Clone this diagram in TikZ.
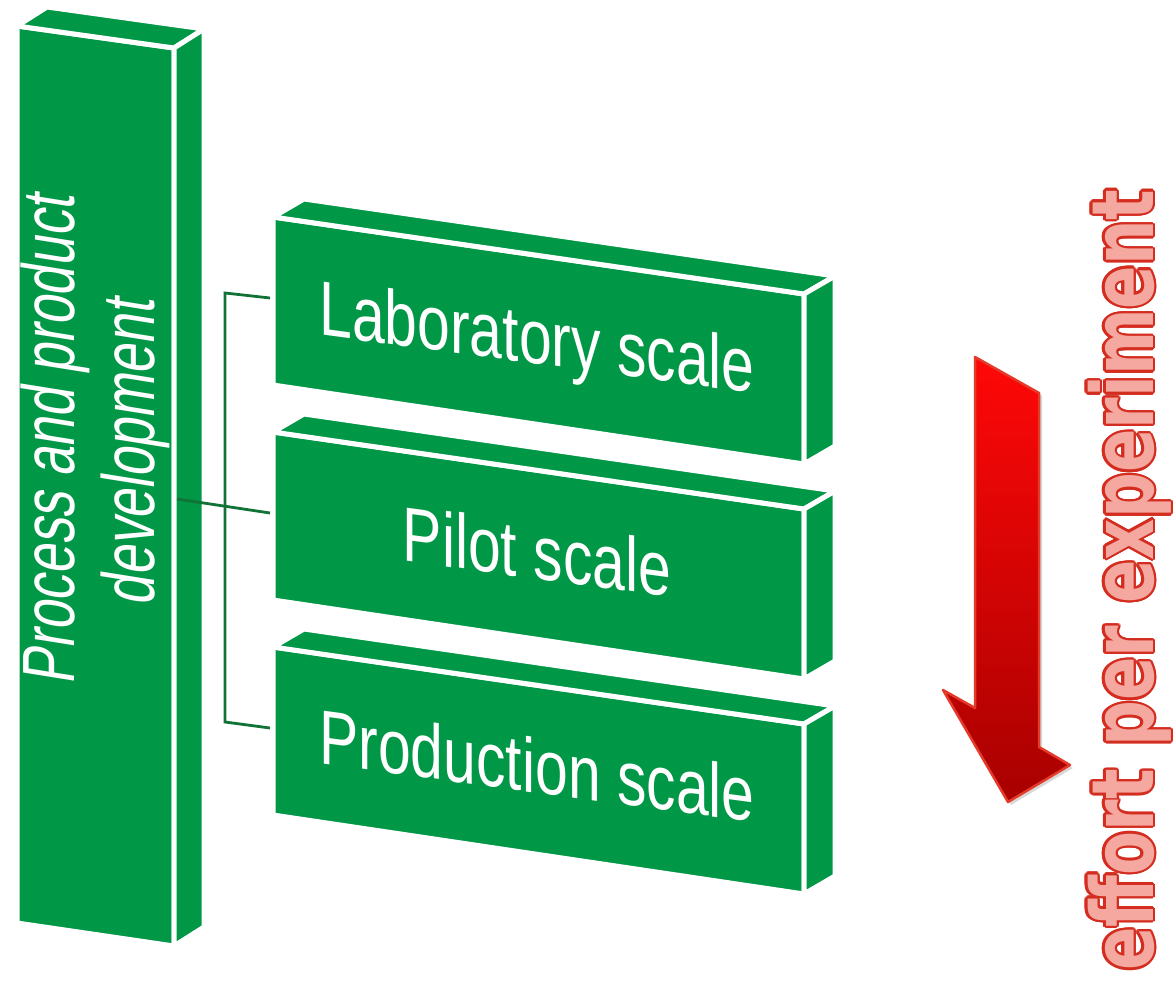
\documentclass[tikz,border=0pt]{standalone}
\usepackage{fontspec}
\setmainfont{Liberation Sans}
\newfontfamily\effortfont{DejaVu Sans}
\usetikzlibrary{shadows}
\definecolor{boxgreen}{RGB}{0,152,70}
\definecolor{linegreen}{RGB}{18,115,55}
\definecolor{arrowtop}{RGB}{255,8,8}
\definecolor{arrowbot}{RGB}{168,0,0}
\definecolor{arrowedge}{RGB}{228,58,42}
\definecolor{effortred}{RGB}{212,45,32}
\definecolor{effortpink}{RGB}{244,168,160}
\begin{document}
\begin{tikzpicture}[x=1pt,y=-1pt,
  face/.style={fill=boxgreen, draw=white, line width=5pt, line join=miter},
  conn/.style={draw=linegreen, line width=2.8pt, line join=miter},
  boxtext/.style={text=white, inner sep=0pt, anchor=base,
    font=\fontsize{77}{80}\selectfont, cm={0.765,-0.1033,0,1,(0,0)}},
  bartext/.style={text=white, inner sep=0pt, anchor=center, align=center,
    font=\fontsize{74}{80}\selectfont, cm={0,0.72,-1,0.16,(0,0)}},
  efforttext/.style={inner sep=0pt, anchor=base,
    font=\effortfont\bfseries\fontsize{86}{86}\selectfont, cm={0,0.745,-1,0,(0,0)}}
]
\useasboundingbox (0,0) rectangle (1176,985);
\fill[white] (0,0) rectangle (1176,985);

% tall bar
\path[face] (17,26) -- (174,48) -- (174,946) -- (17,923) -- cycle;
\path[face] (17,26) -- (47,7) -- (204,29) -- (174,48) -- cycle;
\path[face] (174,48) -- (204,29) -- (204,927) -- (174,946) -- cycle;
\node[bartext] (bar) at (95,444) {Process and product\\development};

% three boxes
\foreach \dy in {0,215,430}{
  \path[face] (273,{217+\dy}) -- (804,{294+\dy}) -- (804,{464+\dy}) -- (273,{385+\dy}) -- cycle;
  \path[face] (273,{217+\dy}) -- (304,{199+\dy}) -- (835,{276+\dy}) -- (804,{294+\dy}) -- cycle;
  \path[face] (804,{294+\dy}) -- (835,{276+\dy}) -- (835,{446+\dy}) -- (804,{464+\dy}) -- cycle;
}
\node[boxtext] (lab) at (537,364) {Laboratory scale};
\node[boxtext] (pilot) at (537,579) {Pilot scale};
\node[boxtext] (prod) at (537,793) {Production scale};

% connectors
\coordinate (jtop) at (225,293);
\coordinate (jbot) at (225,722);
\coordinate (labin) at (270,298);
\coordinate (pilin) at (270,513);
\coordinate (proin) at (270,728);
\coordinate (barout) at (177,499);
\draw[conn] (labin) -- (jtop) -- (jbot) -- (proin);
\draw[conn] (barout) -- (pilin);

% red arrow
\path[draw=arrowedge, line width=2.5pt, line join=round, top color=arrowtop, bottom color=arrowbot,
  drop shadow={opacity=0.3, shadow xshift=3pt, shadow yshift=-3pt}]
  (975,357) -- (1039,393) -- (1039,747) -- (1070,765) -- (1008,802) -- (943,690) -- (975,708) -- cycle;

% effort text with outline
\foreach \a [count=\i] in {0,22.5,...,337.5}{
  \node[efforttext, text=effortred] (eo\i) at ({1153+2.4*cos(\a)},{580+2.4*sin(\a)}) {effort per experiment};
}
\node[efforttext, text=effortpink] (effort) at (1153,580) {effort per experiment};
\end{tikzpicture}
\end{document}
